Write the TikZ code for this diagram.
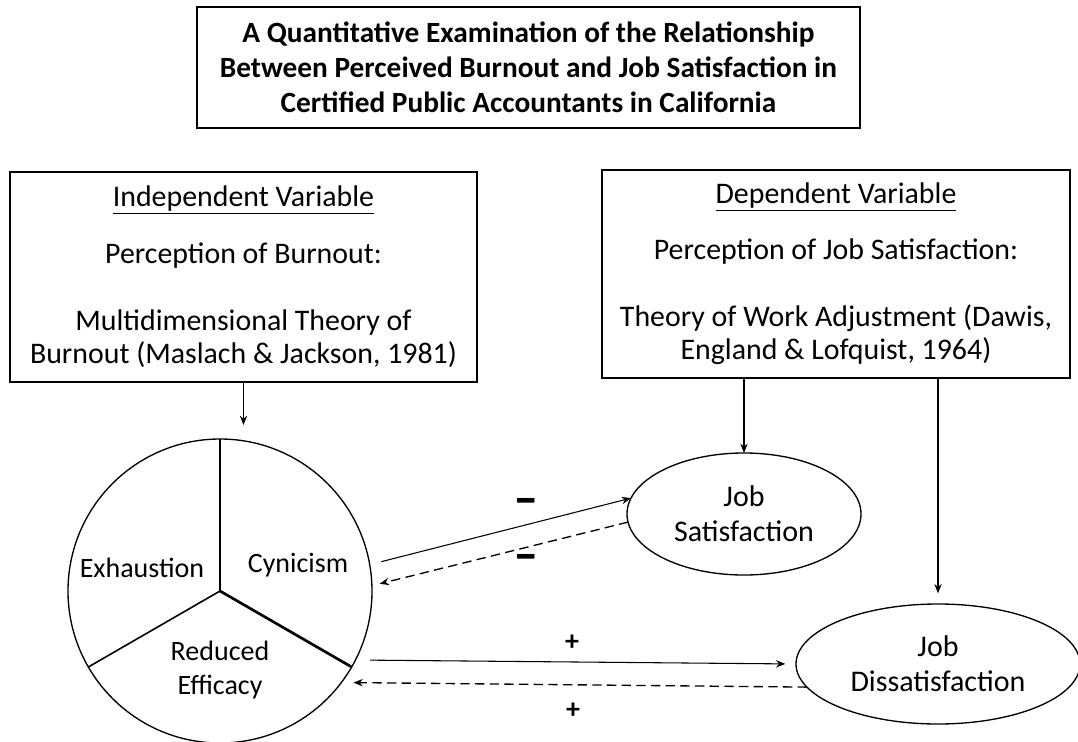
\documentclass[tikz,border=0pt]{standalone}
\usepackage{fontspec}
\setmainfont{Carlito}
\newfontfamily\signfont{DejaVu Sans}
\usetikzlibrary{arrows.meta,shapes.geometric}
\begin{document}
\begin{tikzpicture}[x=0.75pt,y=-0.75pt,
  every node/.style={font=\fontsize{22.4}{24.75}\selectfont},
  box/.style={draw, line width=1.2pt, inner sep=0pt, outer sep=0pt, align=center},
  oval/.style={ellipse, draw, line width=1pt, inner sep=0pt, outer sep=0pt, align=center,
               font=\fontsize{22.5}{26}\selectfont},
  seglabel/.style={font=\fontsize{21}{25.5}\selectfont, align=center},
  arr/.style={-{Stealth[length=7pt,width=5.5pt]}, line width=0.8pt},
  darr/.style={arr, line width=1pt, dash pattern=on 7pt off 4pt},
  minussign/.style={inner sep=0pt, font=\fontsize{19}{19}\signfont\bfseries},
  plussign/.style={font=\fontsize{21}{21}\selectfont\bfseries}
]
\useasboundingbox (0,0) rectangle (1078,742);

% title
\node[box, minimum width=497pt, minimum height=90.75pt,
      font=\fontsize{22}{26.25}\selectfont\bfseries] (title) at (528.5,67.5)
  {A Quantitative Examination of the Relationship\\
   Between Perceived Burnout and Job Satisfaction in\\
   Certified Public Accountants in California};

% variable boxes
\node[box, minimum width=350.25pt, minimum height=157.5pt] (ivbox) at (243.5,277)
  {\underline{Independent Variable}\\[18pt]
   Perception of Burnout:\\[25.5pt]
   Multidimensional Theory of\\
   Burnout (Maslach \& Jackson, 1981)};
\node[box, minimum width=351pt, minimum height=156pt] (dvbox) at (836,274)
  {\underline{Dependent Variable}\\[17pt]
   Perception of Job Satisfaction:\\[26pt]
   Theory of Work Adjustment (Dawis,\\
   England \& Lofquist, 1964)};

% burnout circle
\node[circle, draw, line width=1pt, minimum size=228pt, inner sep=0pt, outer sep=0pt] (burn) at (220,591) {};
\draw[line width=1.4pt] (burn.center) -- (burn.90);
\draw[line width=1.2pt] (burn.center) -- (burn.210);
\draw[line width=2pt] (burn.center) -- (burn.330);
\node[seglabel] (exh) at (142,568) {Exhaustion};
\node[seglabel] (cyn) at (298,565) {Cynicism};
\node[seglabel] (red) at (220,670) {Reduced\\Efficacy};

% outcome ellipses
\node[oval, minimum width=175.5pt, minimum height=91.5pt] (js) at (744,514) {Job\\Satisfaction};
\node[oval, minimum width=213pt, minimum height=90pt] (jd) at (938,664) {Job\\Dissatisfaction};

% vertical arrows
\coordinate (ivend) at (243.5,425);
\draw[arr] (ivbox.south) -- (ivend);
\draw[arr] (dvbox.south -| js.north) -- (js.north);
\draw[arr, shorten >=8pt] (dvbox.south -| jd.north) -- (jd.north);

% relationship arrows
\draw[arr, shorten <=9pt] (burn.10) -- (js.172);
\draw[darr, shorten >=6pt] (js.184) -- (burn.2);
\draw[arr, shorten <=11pt, shorten >=8pt] (burn.-27) -- (jd.180);
\draw[darr, shorten >=9pt] (jd.190) -- (burn.-37);

% signs
\node[minussign] (m1) at (526,506) {\scalebox{1.1}[1.6]{−}};
\node[minussign] (m2) at (526,562) {\scalebox{1.1}[1.6]{−}};
\node[plussign] (p1) at (572,643) {+};
\node[plussign] (p2) at (573,711) {+};
\end{tikzpicture}
\end{document}
